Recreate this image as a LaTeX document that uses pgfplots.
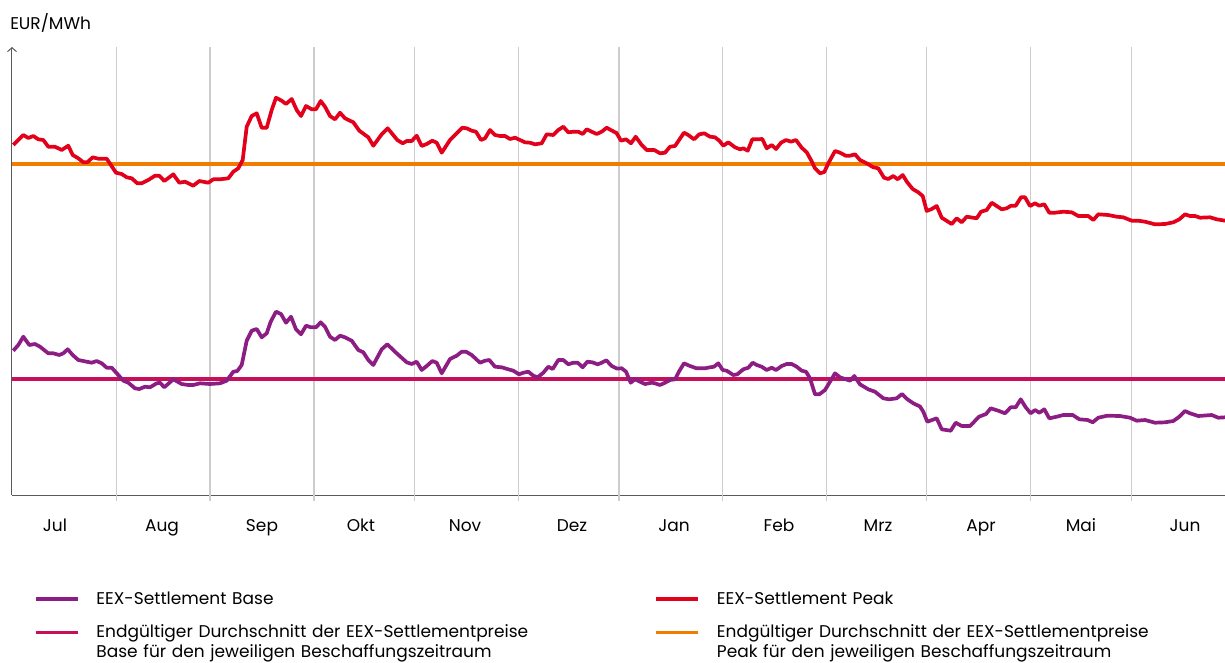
\documentclass[border=0pt]{standalone}
\usepackage{fontspec}
\setmainfont{Poppins}
\usepackage{pgfplots}
\pgfplotsset{compat=1.18}
\usetikzlibrary{arrows.meta}
\definecolor{peakcol}{RGB}{227,0,27}
\definecolor{basecol}{RGB}{140,29,130}
\definecolor{baseavg}{RGB}{200,16,90}
\definecolor{peakavg}{RGB}{240,125,0}
\definecolor{axcol}{RGB}{90,90,90}
\definecolor{gridcol}{RGB}{205,205,205}
\begin{document}
\begin{tikzpicture}
\useasboundingbox (0pt,0pt) rectangle (1225pt,-662pt);
\begin{axis}[
  at={(12pt,-495pt)}, anchor=south west,
  scale only axis, width=1213pt, height=448pt,
  xmin=12, xmax=1225, ymin=-495, ymax=-47,
  clip mode=individual,
  axis x line=bottom, axis y line=left,
  x axis line style={-, draw=axcol, line width=1pt},
  y axis line style={-{Straight Barb[length=4pt,width=9pt]}, draw=axcol, line width=1pt},
  ytick=\empty,
  xtick={55,162,262,361,465,572,674,779,878,981,1081,1185},
  xticklabels={Jul,Aug,Sep,Okt,Nov,Dez,Jan,Feb,Mrz,Apr,Mai,Jun},
  major tick length=0pt,
  xticklabel style={anchor=base, yshift=-36pt, font=\fontsize{17}{20}\selectfont, text=black},
  extra x ticks={116.3,210,314,414.7,518.3,619,722.7,826.7,926.7,1030.7,1131.3},
  extra x tick labels={},
  extra x tick style={grid=major, major tick length=6pt, tick align=outside,
     tick style={draw=gridcol, line width=1.3pt},
     major grid style={draw=gridcol, line width=1.3pt}},
  legend columns=2,
  legend image code/.code={\draw[#1] (0pt,5.5pt) -- (42pt,5.5pt);},
  legend style={at={(axis description cs:0.0181,-0.2115)}, anchor=north west,
     draw=none, fill=none, inner sep=0pt, outer sep=0pt, row sep=15pt,
     font=\fontsize{17}{20}\selectfont,
     cells={anchor=base west, text width=556pt, align=left, inner sep=0pt},
     /tikz/every odd column/.append style={column sep=15pt}},
]
\addlegendimage{basecol, line width=3.5pt}
\addlegendentry{EEX-Settlement Base}
\addlegendimage{peakcol, line width=3.5pt}
\addlegendentry{EEX-Settlement Peak}
\addlegendimage{baseavg, line width=3.5pt}
\addlegendentry{Endgültiger Durchschnitt der EEX-Settlementpreise\\Base für den jeweiligen Beschaffungszeitraum}
\addlegendimage{peakavg, line width=3.5pt}
\addlegendentry{Endgültiger Durchschnitt der EEX-Settlementpreise\\Peak für den jeweiligen Beschaffungszeitraum}

\addplot[forget plot, peakavg, line width=4.5pt] coordinates {(12,-164) (1225,-164)};
\addplot[forget plot, baseavg, line width=4pt] coordinates {(12,-379) (1225,-379)};

% EEX-Settlement Peak
\addplot[forget plot, peakcol, line width=3.7pt, line join=round] coordinates {
(13.3,-145)(23.3,-135)(28.3,-138)(33.3,-136)(38.3,-139.3)(43.3,-140)(48.3,-146.7)(55,-146.7)(61.7,-150)(68.3,-145.7)(72.7,-155)(78.3,-158.3)(83.3,-162.3)(87.3,-162.3)(92.7,-157.3)(98.3,-158.7)(106.7,-158.7)(116,-172.7)(121.7,-174)(126.7,-177.3)(131.7,-178.3)(137.3,-183.3)(141.7,-183.3)(148.3,-180)(155,-175.7)(159.3,-175.7)(164.3,-181)(173.3,-174.3)(179.3,-182.7)(185,-181.7)(193.3,-185.7)(199.3,-181)(208.3,-182.7)(213.3,-179.3)(220,-179.3)(228.3,-178.3)(233.3,-171.7)(238.3,-168.3)(242.7,-160)(246.7,-126.7)(251.7,-116)(256.7,-113.3)(261.7,-127.7)(266.7,-127.7)(271.7,-110)(276,-97.7)(281.7,-100.7)(286,-104)(291.7,-99)(296.7,-110)(301,-116)(306,-106)(311.7,-109.3)(316,-109.3)(320.7,-101)(325,-106.7)(330,-116)(335,-119.3)(340,-112.7)(345,-118.3)(353.3,-122.3)(359.3,-130.7)(368.3,-137.3)(373.3,-145.7)(381.7,-134.3)(387.7,-128.3)(397.3,-140)(402.7,-143.3)(406.7,-141)(411.7,-141)(416.7,-135.7)(421.7,-146)(426.7,-144)(432.3,-140.7)(436.7,-142.7)(441.7,-152.7)(450,-140)(456.7,-133.3)(462.3,-127.7)(466.7,-128.3)(471.7,-130.7)(476,-131.7)(481,-140)(485,-138.3)(490,-130)(495,-135)(500,-136)(505,-136)(510,-139)(515,-137.7)(520,-140)(525,-142.3)(530,-142.7)(535,-144.3)(541.7,-143.3)(546.7,-134.3)(553.3,-135)(558.3,-130)(563.3,-126.7)(568.3,-132.3)(573.3,-131.7)(578.3,-131.7)(582.7,-134)(586.7,-129.3)(591.7,-131.7)(596.7,-134)(601.7,-131.7)(606.7,-127.7)(611.7,-130.5)(616.5,-133)(621,-140.7)(626,-139.3)(631,-143.3)(635.7,-136.7)(641.7,-145)(646.7,-150)(654.3,-150)(660,-153.3)(665,-152.7)(670,-146.7)(675,-146)(684,-132.7)(688.3,-135)(694,-139.3)(699.3,-134.3)(704.3,-133.3)(710,-136.7)(715,-137.3)(719.3,-140.7)(723.3,-145.7)(728.3,-142.3)(735,-147.3)(740,-149.3)(743.3,-148.3)(747.7,-150.7)(752.3,-139.3)(756.7,-139.3)(762.3,-139)(766.7,-148.3)(771.7,-145)(776,-149)(781,-142.7)(786,-140)(791,-141.7)(796,-140)(801.7,-147.7)(806.7,-152.3)(811,-160)(815,-168.3)(820,-173.3)(824.3,-172)(828.3,-163.3)(835,-151)(840,-152.7)(845.7,-155.7)(850,-155.7)(855,-154.3)(860,-160)(866.7,-163.3)(873.3,-167.3)(878.3,-168.3)(884,-177.7)(888.3,-179)(893.3,-176)(897.7,-179.3)(902.7,-175)(907,-182)(912.7,-189)(918.3,-192.3)(922.7,-196)(926.7,-211)(931.7,-209)(936.7,-206)(941.7,-217.7)(951.7,-224)(956.7,-218.3)(961.7,-222.3)(966.7,-216.7)(976.7,-218.3)(981,-211.7)(986.7,-210)(991.7,-202.7)(996.7,-206)(1001.7,-209.3)(1006.7,-208.3)(1011,-205.7)(1015.7,-205.7)(1021,-197.3)(1025,-197.3)(1030,-206)(1035,-203.3)(1039.3,-205.7)(1044.3,-204.3)(1049.3,-212.7)(1055,-212.7)(1063.3,-211.7)(1071.7,-212.3)(1078.3,-216)(1088.3,-216)(1093.3,-220)(1098.3,-214.3)(1108.3,-215)(1116.7,-216.7)(1123.3,-217.3)(1131.7,-220.7)(1138.3,-220.7)(1145,-221.7)(1155,-224.3)(1165,-224)(1173.3,-222.3)(1179.3,-219.3)(1185,-214.3)(1190,-216)(1195,-216)(1200,-217.7)(1210,-217.3)(1216.7,-219.3)(1225,-220.7)
};

% EEX-Settlement Base
\addplot[forget plot, basecol, line width=3.7pt, line join=round] coordinates {
(13.3,-350.7)(18.3,-345)(23.3,-336.7)(29.3,-345)(35,-344)(40,-346.7)(48.3,-353.3)(53.3,-353.3)(59.3,-355)(63.3,-353.3)(67.7,-349.3)(72.7,-355)(78.3,-360)(86.7,-361.7)(91.7,-362.7)(96.7,-361)(101.7,-363.3)(106.7,-367.7)(111.7,-367.7)(118.3,-375)(123.3,-380.7)(128.3,-382.7)(135,-388.3)(139.3,-389)(145,-386.7)(150,-387.3)(156.7,-383.3)(160,-382.7)(164.3,-387.3)(173.3,-379.3)(181.7,-384)(188.3,-385)(193.3,-385)(200,-383.3)(210,-384)(220,-383.3)(226.7,-380.7)(233.3,-371.7)(237.3,-371)(241.7,-365)(246.7,-340.7)(251.7,-330.7)(256.7,-329)(261.7,-337.3)(266.7,-333.3)(270.7,-321.7)(276,-311.7)(281,-314)(286,-322.7)(291,-316.7)(296,-329.3)(301,-334.3)(306,-325.7)(311,-327.3)(316,-327.3)(320.7,-322.3)(325,-326.7)(330,-336.7)(335,-340)(340,-335.7)(345,-337.3)(351.7,-340.7)(358.3,-350)(363.3,-352.3)(368.3,-360)(373.3,-365)(381.7,-349.3)(387.3,-344.3)(396.7,-353.3)(406.7,-362.3)(411.7,-364)(416.7,-361.7)(421.7,-370)(426.7,-366)(432.3,-361)(436.7,-362.7)(441.7,-373.3)(450,-359)(456.7,-355.7)(461.7,-351.7)(466,-351.7)(471.7,-355)(480,-362.7)(485,-360.7)(489.3,-360)(495,-366.7)(501.7,-367.3)(508.3,-369.3)(513.3,-370.7)(519,-374.3)(523.3,-372.7)(528.3,-371.7)(533.3,-375.7)(537.7,-377.3)(543.3,-372.7)(548.3,-366.7)(552.7,-369)(558.3,-360)(563.3,-360)(568.3,-364.3)(573.3,-362.7)(577.7,-362.7)(582.7,-367.3)(587.3,-361.7)(592.3,-362.3)(597.7,-364.3)(601.7,-362.7)(606.3,-360.3)(611.7,-366)(616.7,-368.5)(621.7,-368.3)(626,-371.7)(630.7,-382.7)(635,-379.3)(640,-381.7)(645,-384)(651.7,-382.7)(655,-383.3)(660,-385)(665,-382.7)(670,-380)(675,-379.3)(679.3,-371)(684,-363.3)(690,-366)(696.7,-368.3)(705,-368.3)(710,-367.3)(714,-366.7)(718.3,-363.3)(722.7,-370)(726.7,-370.7)(733.3,-375)(737.3,-374.3)(743.3,-369.3)(748.3,-367.7)(752.7,-362.7)(756.7,-365)(761.7,-366.7)(766.7,-370)(771.7,-367.7)(776,-370)(781.7,-366)(786.7,-364)(791.7,-364)(796.7,-366.7)(801.7,-370.7)(806,-371.7)(810,-378.3)(815,-394.3)(819.3,-394.3)(825,-390)(830,-381.7)(835,-373.3)(840,-377.3)(845,-379)(850,-380.7)(854.3,-376)(860,-384.3)(868.3,-389.3)(875,-391.7)(883.3,-398.3)(889.3,-399.3)(896.7,-398.3)(902,-394)(906.7,-398.8)(913.3,-403.3)(920,-406.5)(923.3,-411.7)(927.3,-421.7)(936.7,-418.3)(941.7,-429.3)(950.7,-430.7)(955.7,-422.7)(961.7,-426)(970,-426)(979,-416.7)(986,-414)(990.7,-408.3)(998.3,-410.7)(1005,-413.3)(1010.7,-407.3)(1015.7,-407.3)(1020.7,-399.3)(1025.7,-407.3)(1030.7,-413.3)(1035,-410)(1039.3,-412.7)(1044.3,-409.3)(1049.3,-418.3)(1056.7,-416.7)(1063.3,-415)(1072.7,-415)(1079.3,-419.3)(1087.7,-420)(1092.7,-422.3)(1098.3,-417.7)(1107.3,-415.7)(1120,-416)(1130,-417.7)(1136.7,-420.7)(1145,-420)(1155,-422.7)(1165,-422.3)(1173.3,-421)(1179.3,-416.7)(1185,-411)(1190,-413.3)(1198.3,-416)(1211.7,-415)(1218.3,-417.7)(1225,-417.3)
};

\node[anchor=west, inner sep=0pt, font=\fontsize{17}{20}\selectfont] at (axis description cs:-0.0016,1.0536) {EUR/MWh};
\end{axis}
\end{tikzpicture}
\end{document}
